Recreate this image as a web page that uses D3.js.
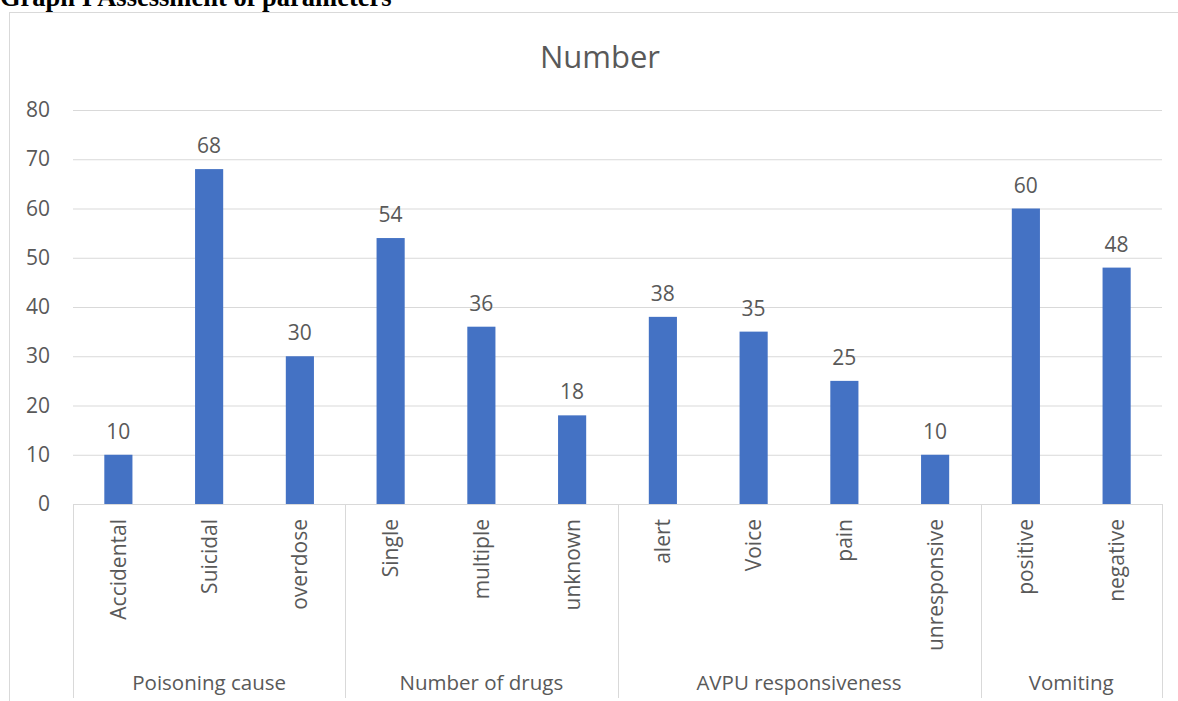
<!DOCTYPE html>
<html><head><meta charset="utf-8">
<script src="https://cdn.jsdelivr.net/npm/d3@7"></script>
<style>body{margin:0;background:#fff;}svg{display:block;}</style>
</head><body>
<svg id="c" width="1178" height="701"></svg>
<script>
const categories = ["Accidental","Suicidal","overdose","Single","multiple","unknown","alert","Voice","pain","unresponsive","positive","negative"];
const values = [10,68,30,54,36,18,38,35,25,10,60,48];
const groups = ["Poisoning cause","Number of drugs","AVPU responsiveness","Vomiting"];
const groupSizes = [3,3,4,2];
const yTicks = [0,10,20,30,40,50,60,70,80];

(function(){
const svg = d3.select("#c");
const font = "'Open Sans', sans-serif";
const txt = "#595959";
const pL = 73, pR = 1162, pT = 110, pB = 504;

svg.append("text").attr("x",0).attr("y",6).attr("font-family","'Liberation Serif', serif")
  .attr("font-weight","bold").attr("font-size",26.5).attr("fill","#000").text("Graph I Assessment of parameters");

svg.append("rect").attr("x",9.5).attr("y",12.5).attr("width",1200).attr("height",720)
  .attr("fill","none").attr("stroke","#d9d9d9");

svg.append("text").attr("x",600).attr("y",68).attr("text-anchor","middle")
  .attr("font-family",font).attr("font-size",31).attr("fill",txt).text("Number");

const x = d3.scaleBand().domain(categories).range([pL,pR]).paddingInner(0.69).paddingOuter(0.345);
const y = d3.scaleLinear().domain([0,80]).range([pB,pT]);

const yAxis = d3.axisLeft(y).tickValues(yTicks).tickSize(-(pR-pL)).tickPadding(23);
const gy = svg.append("g").attr("transform",`translate(${pL},0)`).call(yAxis);
gy.select(".domain").remove();
gy.selectAll(".tick line").attr("stroke","#d9d9d9");
gy.selectAll(".tick text").attr("font-family",font).attr("font-size",21).attr("fill",txt);

svg.selectAll("rect.bar").data(values).join("rect").attr("class","bar")
  .attr("x",(d,i)=>x(categories[i])).attr("width",x.bandwidth())
  .attr("y",d=>y(d)).attr("height",d=>y(0)-y(d)).attr("fill","#4472C4");

svg.selectAll("text.val").data(values).join("text").attr("class","val")
  .attr("x",(d,i)=>x(categories[i])+x.bandwidth()/2).attr("y",d=>y(d)-16)
  .attr("text-anchor","middle").attr("font-family",font).attr("font-size",21).attr("fill",txt).text(d=>d);

svg.append("line").attr("x1",pL).attr("x2",pR).attr("y1",pB+0.5).attr("y2",pB+0.5).attr("stroke","#d9d9d9");
const step = x.step();
svg.selectAll("text.cat").data(categories).join("text").attr("class","cat")
  .attr("transform",(d)=>`translate(${x(d)+x.bandwidth()/2+7.5},519) rotate(-90)`)
  .attr("text-anchor","end").attr("font-family",font).attr("font-size",21).attr("fill",txt).text(d=>d);

let start = 0;
const bounds = [pL];
groups.forEach((g,gi)=>{
  const first = categories[start], last = categories[start+groupSizes[gi]-1];
  const gx0 = x(first) - (step - x.bandwidth())/2;
  const gx1 = x(last) + x.bandwidth() + (step - x.bandwidth())/2;
  bounds.push(gx1);
  svg.append("text").attr("x",(gx0+gx1)/2).attr("y",690).attr("text-anchor","middle")
    .attr("font-family",font).attr("font-size",20.5).attr("fill",txt).text(g);
  start += groupSizes[gi];
});
svg.selectAll("line.sep").data(bounds).join("line").attr("class","sep")
  .attr("x1",d=>Math.round(d)+0.5).attr("x2",d=>Math.round(d)+0.5).attr("y1",pB).attr("y2",698).attr("stroke","#d9d9d9");
})();
</script>
</body></html>
